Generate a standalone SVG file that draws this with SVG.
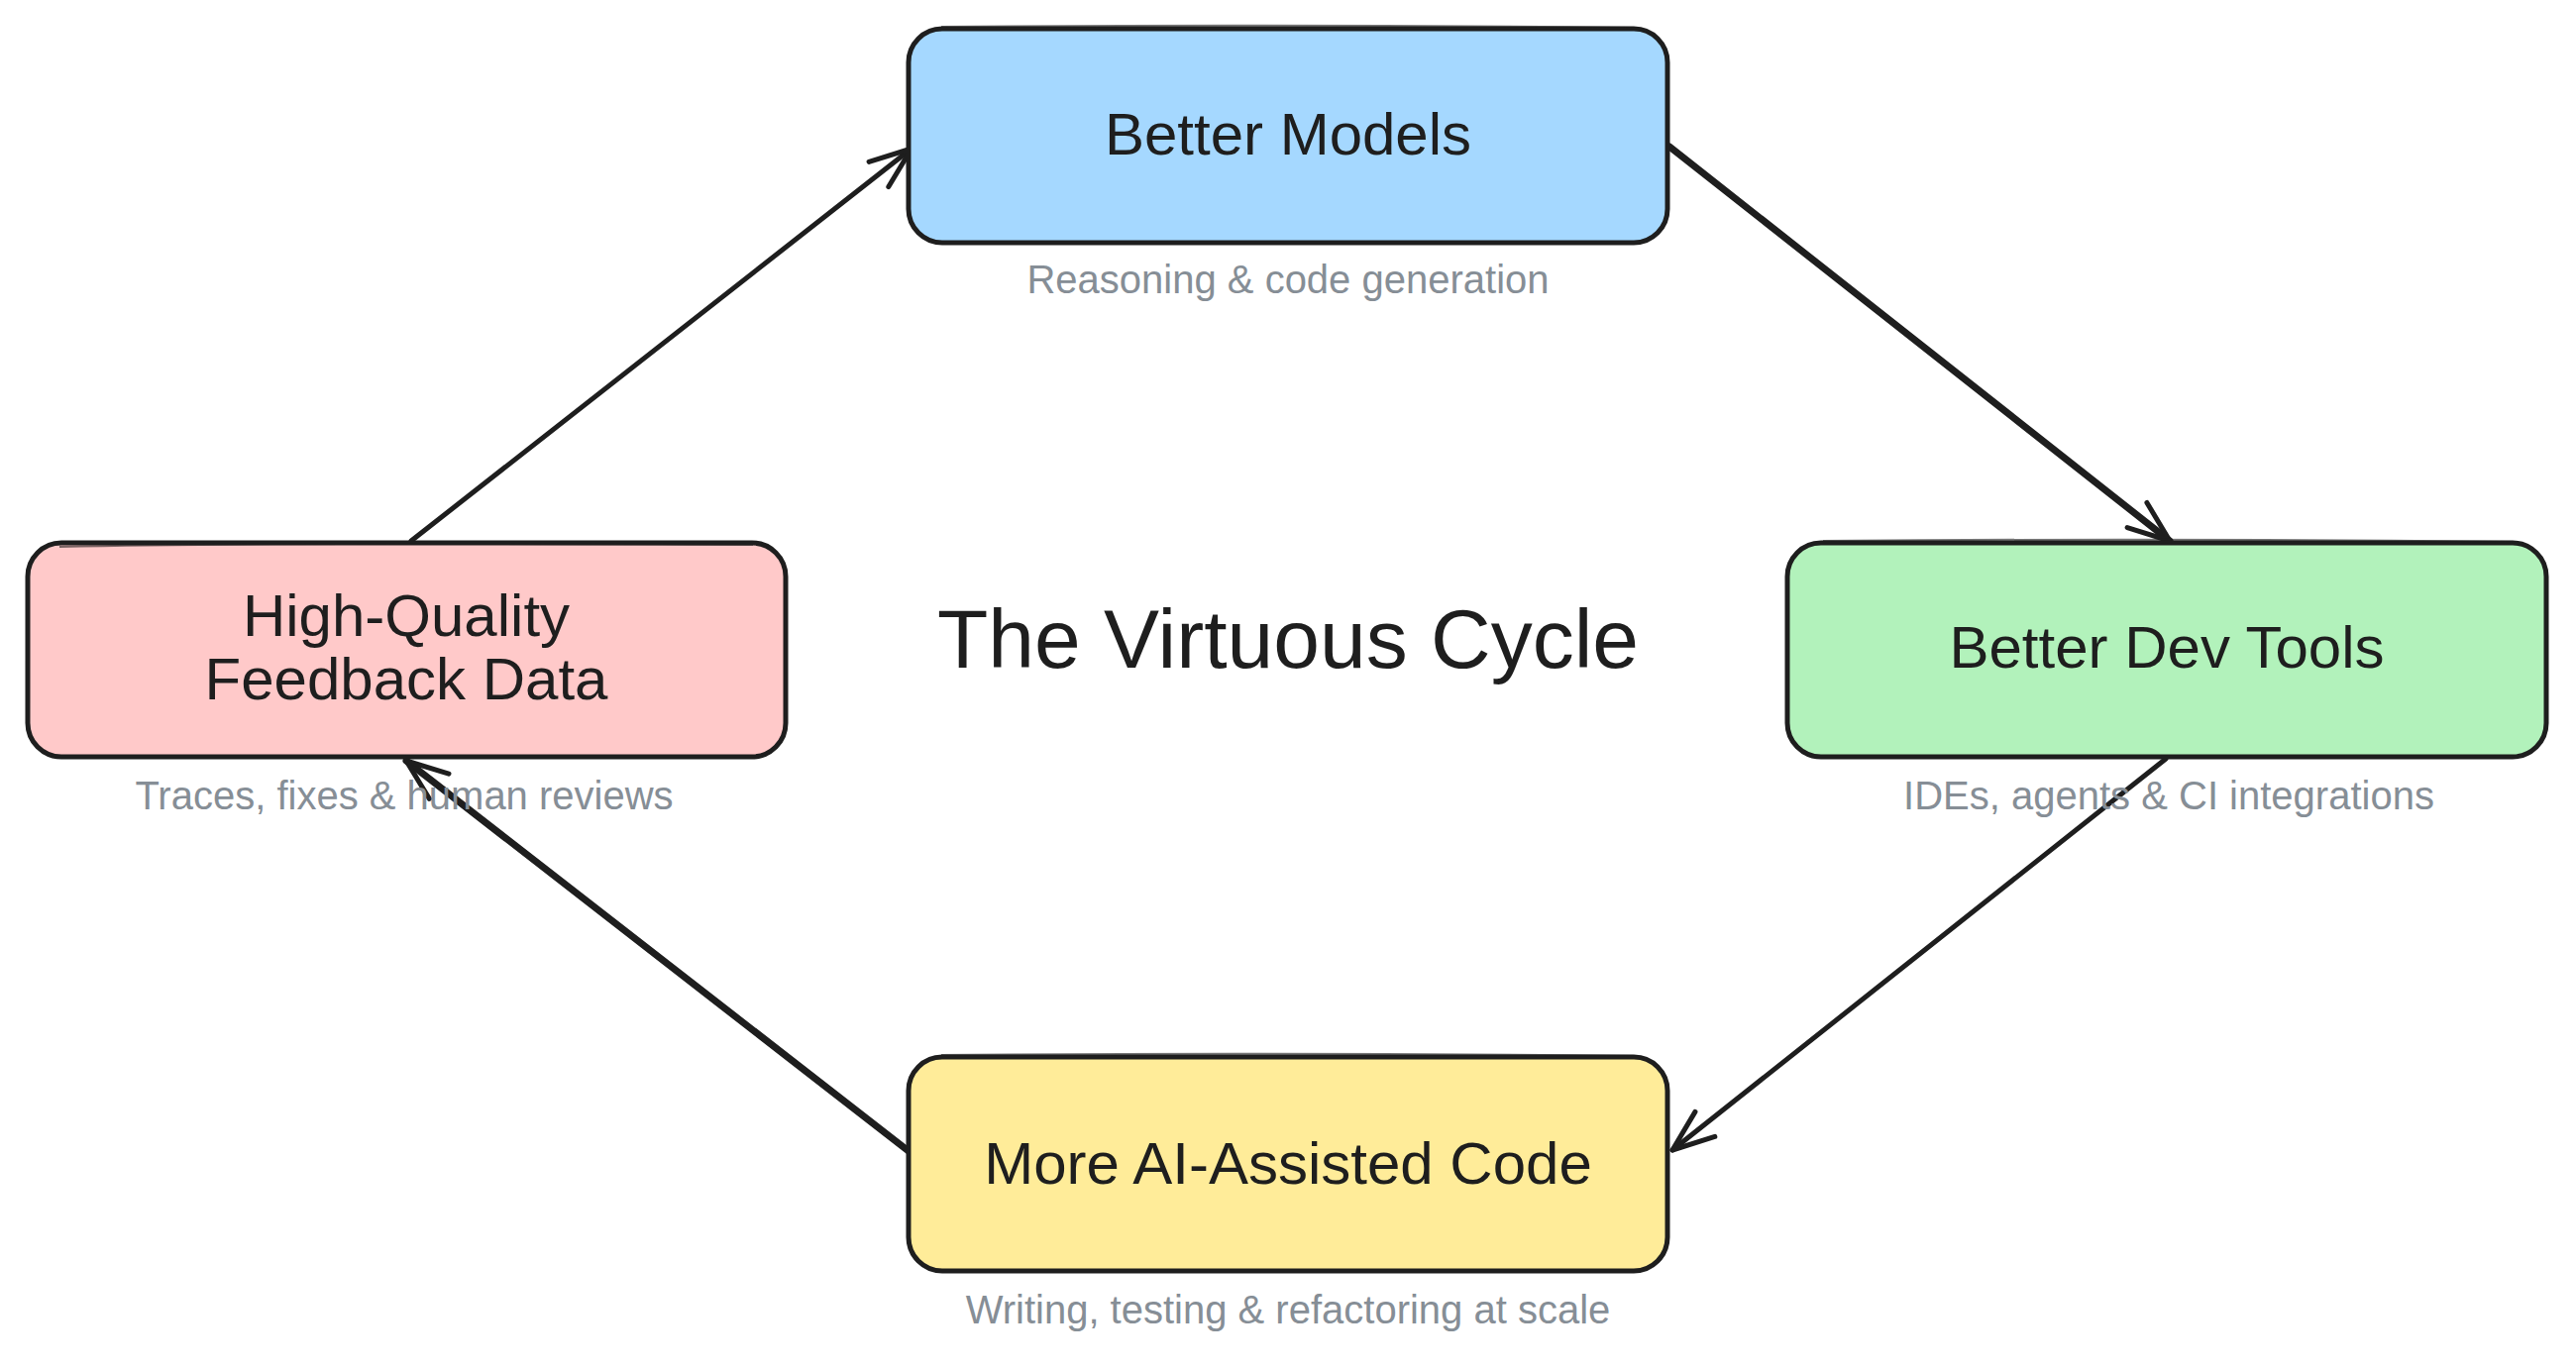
<svg xmlns="http://www.w3.org/2000/svg" width="2600" height="1382" viewBox="0 0 2600 1382">
  <defs>
    <style>
      .box { stroke: #1e1e1e; stroke-width: 5; stroke-linejoin: round; }
      .sketch { fill: none; stroke: #1e1e1e; stroke-width: 2; opacity: 0.6; }
      .label { font-family: "Liberation Sans", "DejaVu Sans", sans-serif; font-size: 60px; fill: #1e1e1e; text-anchor: middle; }
      .sub { font-family: "Liberation Sans", "DejaVu Sans", sans-serif; font-size: 40px; fill: #868e96; text-anchor: middle; }
      .title { font-family: "Liberation Sans", "DejaVu Sans", sans-serif; font-size: 84px; fill: #1e1e1e; text-anchor: middle; }
      .conn { fill: none; stroke: #1e1e1e; stroke-linecap: round; }
    </style>
    <marker id="arrow" viewBox="-50 -25 60 50" refX="0" refY="0" markerWidth="60" markerHeight="50" markerUnits="userSpaceOnUse" orient="auto">
      <path d="M -42 -16 L 0 0 L -42 16" fill="none" stroke="#1e1e1e" stroke-width="5" stroke-linecap="round" stroke-linejoin="round"/>
    </marker>
  </defs>
  <rect width="2600" height="1382" fill="#ffffff"/>

  <g id="connectors">
    <line class="conn" x1="415" y1="546" x2="920" y2="150" stroke-width="5" marker-end="url(#arrow)"/>
    <line class="conn" x1="1685" y1="148" x2="2190" y2="546" stroke-width="7" marker-end="url(#arrow)"/>
    <line class="conn" x1="2186" y1="766" x2="1688" y2="1161" stroke-width="5" marker-end="url(#arrow)"/>
    <line class="conn" x1="917" y1="1162" x2="410" y2="768" stroke-width="7" marker-end="url(#arrow)"/>
  </g>

  <g id="node-better-models">
    <rect class="box" x="917" y="29" width="766" height="216" rx="34" fill="#a5d8ff"/>
    <path class="sketch" d="M 950 27 Q 1300 24 1650 28"/>
    <text class="label" x="1300" y="156">Better Models</text>
    <text class="sub" x="1300" y="296">Reasoning &amp; code generation</text>
  </g>

  <g id="node-better-dev-tools">
    <rect class="box" x="1804" y="548" width="766" height="216" rx="34" fill="#b2f2bb"/>
    <path class="sketch" d="M 1840 546 Q 2190 543 2540 547"/>
    <text class="label" x="2187" y="674">Better Dev Tools</text>
    <text class="sub" x="2189" y="817">IDEs, agents &amp; CI integrations</text>
  </g>

  <g id="node-more-ai-code">
    <rect class="box" x="917" y="1067" width="766" height="216" rx="34" fill="#ffec99"/>
    <path class="sketch" d="M 950 1065 Q 1300 1062 1650 1066"/>
    <text class="label" x="1300" y="1195">More AI-Assisted Code</text>
    <text class="sub" x="1300" y="1336">Writing, testing &amp; refactoring at scale</text>
  </g>

  <g id="node-feedback-data">
    <rect class="box" x="28" y="548" width="765" height="216" rx="34" fill="#ffc9c9"/>
    <path class="sketch" d="M 60 552 Q 300 547 760 550"/>
    <text class="label" x="410" y="642" font-size="52">High-Quality</text>
    <text class="label" x="410" y="706" font-size="54">Feedback Data</text>
    <text class="sub" x="408" y="817">Traces, fixes &amp; human reviews</text>
  </g>

  <g id="title">
    <text class="title" x="1300" y="674">The Virtuous Cycle</text>
  </g>
</svg>
